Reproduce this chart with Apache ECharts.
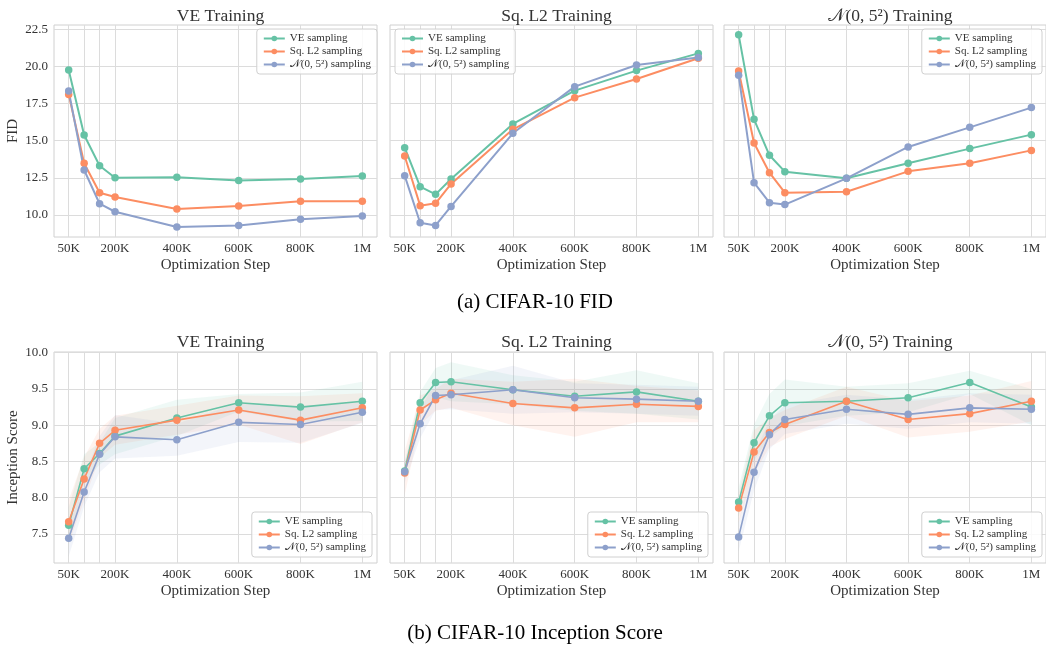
<!DOCTYPE html>
<html>
<head>
<meta charset="utf-8">
<script src="https://cdn.jsdelivr.net/npm/echarts@6/dist/echarts.min.js"></script>
<style>
  html, body { margin: 0; padding: 0; background: #fff; }
  #chart { width: 1046px; height: 645px; }
</style>
</head>
<body>
<div id="chart"></div>
<script>
// x positions in thousands of steps
const steps = [50, 100, 150, 200, 400, 600, 800, 1000];
const labelSteps = [50, 200, 400, 600, 800, 1000];
const fidTicks = [10, 12.5, 15, 17.5, 20, 22.5];
const isTicks = [7.5, 8.0, 8.5, 9.0, 9.5, 10.0];

const samplerNames = ['VE sampling', 'Sq. L2 sampling', '\u{1D4A9}(0, 5²) sampling'];
const trainTitles = ['VE Training', 'Sq. L2 Training', '\u{1D4A9}(0, 5²) Training'];

// FID (top row)
const fidVeTrainVe = [19.76, 15.39, 13.32, 12.51, 12.54, 12.33, 12.42, 12.63];
const fidVeTrainL2 = [18.12, 13.48, 11.50, 11.21, 10.40, 10.61, 10.92, 10.92];
const fidVeTrainN  = [18.35, 13.03, 10.76, 10.22, 9.19, 9.30, 9.71, 9.93];

const fidL2TrainVe = [14.53, 11.91, 11.39, 12.42, 16.13, 18.37, 19.72, 20.88];
const fidL2TrainL2 = [13.97, 10.63, 10.79, 12.09, 15.77, 17.90, 19.16, 20.55];
const fidL2TrainN  = [12.65, 9.48, 9.30, 10.58, 15.50, 18.64, 20.10, 20.61];

const fidNTrainVe = [22.14, 16.44, 14.02, 12.92, 12.47, 13.48, 14.47, 15.41];
const fidNTrainL2 = [19.69, 14.85, 12.85, 11.50, 11.57, 12.94, 13.48, 14.35];
const fidNTrainN  = [19.40, 12.18, 10.83, 10.70, 12.47, 14.58, 15.90, 17.23];

// Inception score (bottom row) and band half-widths
const isVeTrainVe = [7.62, 8.40, 8.61, 8.85, 9.10, 9.31, 9.25, 9.33];
const isVeTrainL2 = [7.67, 8.26, 8.75, 8.93, 9.07, 9.21, 9.07, 9.24];
const isVeTrainN  = [7.44, 8.08, 8.60, 8.84, 8.80, 9.04, 9.01, 9.18];
const isVeTrainVeStd = [0.25, 0.20, 0.15, 0.25, 0.25, 0.12, 0.20, 0.27];
const isVeTrainL2Std = [0.30, 0.30, 0.20, 0.20, 0.20, 0.20, 0.33, 0.20];
const isVeTrainNStd  = [0.25, 0.20, 0.25, 0.30, 0.22, 0.27, 0.25, 0.15];

const isL2TrainVe = [8.37, 9.31, 9.59, 9.60, 9.49, 9.40, 9.46, 9.33];
const isL2TrainL2 = [8.34, 9.21, 9.35, 9.44, 9.30, 9.24, 9.29, 9.26];
const isL2TrainN  = [8.36, 9.02, 9.41, 9.42, 9.49, 9.38, 9.36, 9.33];
const isL2TrainVeStd = [0.10, 0.15, 0.20, 0.27, 0.20, 0.20, 0.30, 0.25];
const isL2TrainL2Std = [0.30, 0.20, 0.15, 0.20, 0.30, 0.40, 0.25, 0.22];
const isL2TrainNStd  = [0.15, 0.20, 0.20, 0.20, 0.33, 0.20, 0.20, 0.20];

const isNTrainVe = [7.94, 8.76, 9.13, 9.31, 9.33, 9.38, 9.59, 9.25];
const isNTrainL2 = [7.86, 8.63, 8.90, 9.01, 9.33, 9.08, 9.16, 9.33];
const isNTrainN  = [7.46, 8.35, 8.87, 9.08, 9.22, 9.15, 9.24, 9.22];
const isNTrainVeStd = [0.20, 0.25, 0.30, 0.32, 0.20, 0.20, 0.16, 0.25];
const isNTrainL2Std = [0.20, 0.30, 0.20, 0.20, 0.20, 0.25, 0.25, 0.28];
const isNTrainNStd  = [0.20, 0.25, 0.20, 0.20, 0.20, 0.20, 0.20, 0.20];

const colors = ['#66c2a5', '#fc8d62', '#8da0cb'];
const bandColors = ['rgba(102,194,165,0.1)', 'rgba(252,141,98,0.1)', 'rgba(141,160,203,0.1)'];
const serif = 'Liberation Serif';

const fidRows = [
  [fidVeTrainVe, fidVeTrainL2, fidVeTrainN],
  [fidL2TrainVe, fidL2TrainL2, fidL2TrainN],
  [fidNTrainVe, fidNTrainL2, fidNTrainN]
];
const isRows = [
  [isVeTrainVe, isVeTrainL2, isVeTrainN],
  [isL2TrainVe, isL2TrainL2, isL2TrainN],
  [isNTrainVe, isNTrainL2, isNTrainN]
];
const isStds = [
  [isVeTrainVeStd, isVeTrainL2Std, isVeTrainNStd],
  [isL2TrainVeStd, isL2TrainL2Std, isL2TrainNStd],
  [isNTrainVeStd, isNTrainL2Std, isNTrainNStd]
];

const gridLefts = [54, 390, 724];
const gridWidth = 323;
const rowTops = [25, 352];
const rowHeights = [212, 211];

let grids = [], xAxes = [], yAxes = [], series = [], legends = [], titles = [];

function fmtStep(v) {
  return v >= 1000 ? (v / 1000) + 'M' : v + 'K';
}

// shaded band (mean +- sd) drawn as one polygon through the axis scales
function bandSeries(idx, mean, sd, color) {
  const rows = steps.map((x, i) => [x, mean[i] - sd[i], mean[i] + sd[i]]);
  return {
    type: 'custom', xAxisIndex: idx, yAxisIndex: idx, silent: true, z: 1, clip: true,
    data: rows,
    renderItem: function (params, api) {
      if (params.dataIndex !== 0) return;
      const upper = rows.map(d => api.coord([d[0], d[2]]));
      const lower = rows.map(d => api.coord([d[0], d[1]])).reverse();
      return {
        type: 'polygon',
        shape: { points: upper.concat(lower) },
        style: { fill: color, stroke: null }
      };
    }
  };
}

for (let r = 0; r < 2; r++) {
  for (let c = 0; c < 3; c++) {
    const idx = r * 3 + c;
    grids.push({
      left: gridLefts[c], top: rowTops[r], width: c === 2 ? 322 : gridWidth, height: rowHeights[r],
      show: true, borderColor: '#d0d0d0', borderWidth: 1, containLabel: false
    });
    xAxes.push({
      type: 'value', gridIndex: idx, min: 2.5, max: 1047.5,
      name: 'Optimization Step', nameLocation: 'middle', nameGap: 21,
      nameTextStyle: { fontFamily: serif, fontSize: 15, color: '#333' },
      axisLine: { show: false },
      axisTick: { show: false, customValues: steps },
      axisLabel: {
        customValues: labelSteps, formatter: fmtStep, margin: 5,
        fontFamily: serif, fontSize: 13, color: '#333'
      },
      splitLine: { show: true, lineStyle: { color: '#dcdcdc', width: 1 } }
    });
    yAxes.push({
      type: 'value', gridIndex: idx,
      min: r === 0 ? 8.52 : 7.1, max: r === 0 ? 22.79 : 10.01,
      name: c === 0 ? (r === 0 ? 'FID' : 'Inception Score') : '',
      nameLocation: 'middle', nameGap: 33, nameRotate: 90,
      nameTextStyle: { fontFamily: serif, fontSize: 15, color: '#333' },
      axisLine: { show: false },
      axisTick: { show: false, customValues: r === 0 ? fidTicks : isTicks },
      axisLabel: {
        show: c === 0, customValues: r === 0 ? fidTicks : isTicks,
        formatter: v => v.toFixed(1), margin: 6,
        fontFamily: serif, fontSize: 13, color: '#333'
      },
      splitLine: { show: true, lineStyle: { color: '#dcdcdc', width: 1 } }
    });

    titles.push({
      text: trainTitles[c], left: gridLefts[c] + gridWidth / 2, top: r === 0 ? 2 : 328,
      textAlign: 'center',
      textStyle: { fontFamily: serif, fontSize: 17.5, fontWeight: 'normal', color: '#333' }
    });

    const vals = r === 0 ? fidRows[c] : isRows[c];
    for (let s = 0; s < 3; s++) {
      if (r === 1) {
        series.push(bandSeries(idx, vals[s], isStds[c][s], bandColors[s]));
      }
      series.push({
        type: 'line', name: samplerNames[s], xAxisIndex: idx, yAxisIndex: idx,
        data: steps.map((x, i) => [x, vals[s][i]]),
        color: colors[s], symbol: 'circle', symbolSize: 7.5,
        lineStyle: { width: r === 0 ? 2 : 1.6, color: colors[s] },
        itemStyle: { color: colors[s] }, z: 3
      });
    }
  }
}

const legendBase = {
  orient: 'vertical', data: samplerNames, itemWidth: 21, itemHeight: 7, itemGap: 2,
  padding: [4, 6, 4, 6], borderColor: '#d0d0d0', borderWidth: 1, borderRadius: 3,
  backgroundColor: 'rgba(255,255,255,0.85)',
  textStyle: { fontFamily: serif, fontSize: 11, color: '#333' }
};
legends.push(Object.assign({}, legendBase, { right: 669, top: 29 }));
legends.push(Object.assign({}, legendBase, { left: 395, top: 29 }));
legends.push(Object.assign({}, legendBase, { right: 4, top: 29 }));
legends.push(Object.assign({}, legendBase, { right: 674, top: 512 }));
legends.push(Object.assign({}, legendBase, { right: 338, top: 512 }));
legends.push(Object.assign({}, legendBase, { right: 4, top: 512 }));

titles.push({
  text: '(a) CIFAR-10 FID', left: 530, top: 287, textAlign: 'center',
  textStyle: { fontFamily: serif, fontSize: 21, fontWeight: 'normal', color: '#000' }
});
titles.push({
  text: '(b) CIFAR-10 Inception Score', left: 530, top: 618, textAlign: 'center',
  textStyle: { fontFamily: serif, fontSize: 21, fontWeight: 'normal', color: '#000' }
});

const chart = echarts.init(document.getElementById('chart'));
chart.setOption({
  animation: false,
  backgroundColor: '#fff',
  title: titles,
  legend: legends,
  grid: grids,
  xAxis: xAxes,
  yAxis: yAxes,
  series: series
});
</script>
</body>
</html>
